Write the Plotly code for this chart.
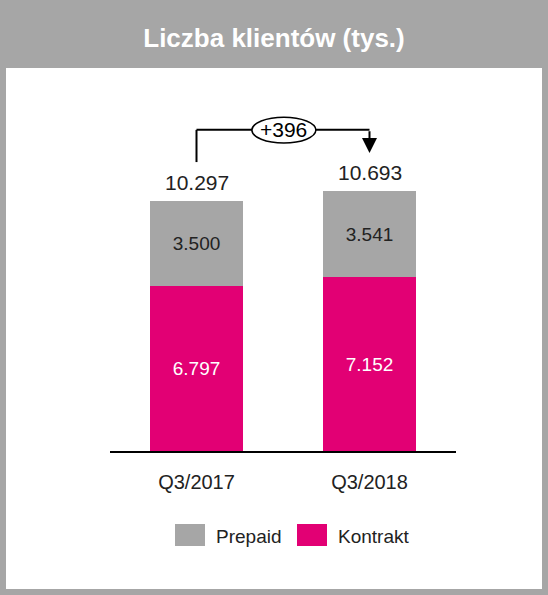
import plotly.graph_objects as go

# Data (tys.)
categories = ["Q3/2017", "Q3/2018"]
kontrakt = [6797, 7152]
prepaid = [3500, 3541]
totals = [k + p for k, p in zip(kontrakt, prepaid)]


def pl(v):
    # polish style thousands separator
    return f"{v:,}".replace(",", ".")


W, H = 548, 595
MAGENTA = "#e20074"
GREY = "#a6a6a6"
FONT = "Liberation Sans, Arial, sans-serif"
TXT = "#222222"

fig = go.Figure()

fig.add_trace(go.Bar(
    name="Kontrakt", x=categories, y=kontrakt,
    marker=dict(color=MAGENTA, line=dict(width=0)),
    text=[pl(v) for v in kontrakt], textposition="inside",
    insidetextanchor="middle", textangle=0,
    textfont=dict(color="white", size=19, family=FONT),
    width=0.54,
))
fig.add_trace(go.Bar(
    name="Prepaid", x=categories, y=prepaid,
    marker=dict(color=GREY, line=dict(width=0)),
    text=[pl(v) for v in prepaid], textposition="inside",
    insidetextanchor="middle", textangle=0,
    textfont=dict(color=TXT, size=19, family=FONT),
    width=0.54,
))

# totals above bars
for c, t in zip(categories, totals):
    fig.add_annotation(x=c, y=t, text=pl(t), showarrow=False,
                       yanchor="bottom", yshift=5,
                       font=dict(size=21, color=TXT, family=FONT))

# bracket with difference
bracket_y = max(totals) + 2530
diff = totals[1] - totals[0]
fig.add_shape(type="line", xref="x", yref="y", x0=0, x1=0,
              y0=totals[0] + 1600, y1=bracket_y,
              line=dict(color="black", width=2))
fig.add_shape(type="line", xref="x", yref="y", x0=0, x1=1,
              y0=bracket_y, y1=bracket_y,
              line=dict(color="black", width=2))
fig.add_annotation(x=1, y=totals[1] + 1580, ax=1, ay=bracket_y,
                   xref="x", yref="y", axref="x", ayref="y",
                   text="", showarrow=True, arrowhead=2, arrowsize=1.5,
                   arrowwidth=2, arrowcolor="black")
fig.add_shape(type="circle", xref="x", yref="y", x0=0.32, x1=0.69,
              y0=bracket_y - 540, y1=bracket_y + 520,
              line=dict(color="black", width=1.5), fillcolor="white")
fig.add_annotation(x=0.505, y=bracket_y, text=f"+{diff}", showarrow=False,
                   yanchor="middle",
                   font=dict(size=21, color="black", family=FONT))

# white panel
fig.add_shape(type="rect", xref="paper", yref="paper", layer="below",
              x0=6 / W, x1=542 / W, y0=1 - 589 / H, y1=1 - 68 / H,
              fillcolor="white", line=dict(width=0))

# legend drawn by hand so the swatches get the large size of the original
legend_items = [("Prepaid", GREY, 175), ("Kontrakt", MAGENTA, 297)]
for name, color, left in legend_items:
    fig.add_shape(type="rect", xref="paper", yref="paper",
                  x0=left / W, x1=(left + 30) / W,
                  y0=1 - 546 / H, y1=1 - 524 / H,
                  fillcolor=color, line=dict(width=0))
    fig.add_annotation(xref="paper", yref="paper", x=(left + 39) / W,
                       y=1 - 536 / H, text=name, showarrow=False,
                       xanchor="left", yanchor="middle",
                       font=dict(size=19, color=TXT, family=FONT))

fig.update_layout(
    width=W, height=H,
    margin=dict(l=0, r=0, t=0, b=0),
    paper_bgcolor=GREY, plot_bgcolor="rgba(0,0,0,0)",
    barmode="stack",
    title=dict(text="<b>Liczba klientów (tys.)</b>", x=0.5, xanchor="center",
               y=1 - 38 / H, yanchor="middle",
               font=dict(size=26, color="white", family=FONT)),
    font=dict(family=FONT, color=TXT),
    xaxis=dict(domain=[110 / W, 456 / W], range=[-0.5, 1.5],
               showline=True, linecolor="black", linewidth=2,
               ticks="", showgrid=False, ticklabelstandoff=12,
               tickfont=dict(size=20, color=TXT, family=FONT)),
    yaxis=dict(domain=[1 - 451 / H, 1 - 111 / H], range=[0, 14000],
               visible=False, showgrid=False, zeroline=False),
    showlegend=False,
)

# page body has a default 8px margin, drop it so the figure fills the window
fig.write_html("out.html", config={"displayModeBar": False},
               post_script="document.body.style.margin='0';")
